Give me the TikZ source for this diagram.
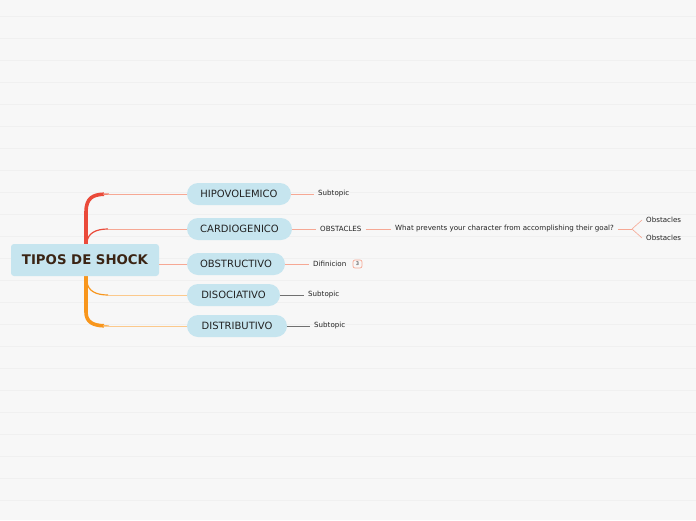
\documentclass[tikz,border=0pt]{standalone}
\usepackage{fontspec}
\setmainfont{DejaVu Sans}
\begin{document}
\begin{tikzpicture}[x=1pt,y=-1pt,
  topic/.style={fill=topicblue, rounded corners=11pt, minimum height=22pt, inner sep=0pt, font=\fontsize{10}{12}\selectfont, text=textdark},
  small/.style={font=\fontsize{7.1}{8.5}\selectfont, text=textdark, inner sep=4pt},
  pinkline/.style={draw=salmon, line width=0.9pt},
  orline/.style={draw=lightorange, line width=0.9pt},
  greyline/.style={draw=greyl, line width=0.9pt}
]
\definecolor{bg}{HTML}{F7F7F7}
\definecolor{topicblue}{HTML}{C6E5EF}
\definecolor{textdark}{HTML}{222222}
\definecolor{centertext}{HTML}{3A2414}
\definecolor{salmon}{HTML}{F6A894}
\definecolor{lightorange}{HTML}{FBC98C}
\definecolor{greyl}{HTML}{707070}
\definecolor{trunkred}{HTML}{EA4A3A}
\definecolor{trunkorange}{HTML}{F8961C}
\fill[bg] (0,0) rectangle (696,520);
\useasboundingbox (0,0) rectangle (696,520);
\foreach \yy in {16,38,60,82,104,126,148,170,192,214,236,258,280,302,324,346,368,390,412,434,456,478,500}
  \draw[white!60!bg!90!black, line width=0.5pt, opacity=0.35] (0,\yy) -- (696,\yy);

% trunk
\draw[trunkred, line width=3.6pt] (86,246) -- (86,212) .. controls (86,198) and (93,194.5) .. (104,194.2);
\draw[salmon!60!trunkred, line width=1.4pt] (103,194.2) -- (109,194);
\draw[trunkorange, line width=3.6pt] (86,274) -- (86,312) .. controls (86,322) and (93,325.5) .. (104,325.8);
\draw[lightorange!60!trunkorange, line width=1.4pt] (103,325.8) -- (109,326);
\draw[trunkred, line width=1.2pt] (87,242) .. controls (88,233) and (96,229) .. (108,229);
\draw[trunkorange, line width=1.2pt] (87,282) .. controls (88,291) and (96,295) .. (108,295);

% central
\node[fill=topicblue, rounded corners=3pt, minimum width=148pt, minimum height=32pt, inner sep=0pt,
  font=\fontsize{13.3}{15}\selectfont\bfseries, text=centertext] (c) at (85,260) {TIPOS DE SHOCK};

% topics
\node[topic, minimum width=104pt] (h) at (239,194) {HIPOVOLEMICO};
\node[topic, minimum width=105pt] (ca) at (239.5,229) {CARDIOGENICO};
\node[topic, minimum width=98pt] (o) at (236,264) {OBSTRUCTIVO};
\node[topic, minimum width=93pt] (di) at (233.5,295) {DISOCIATIVO};
\node[topic, minimum width=100pt] (ds) at (237,326) {DISTRIBUTIVO};

\coordinate (ht) at (108,194);
\coordinate (cat) at (108,229);
\coordinate (dit) at (108,295);
\coordinate (dst) at (108,326);
\draw[pinkline] (ht) -- (h.west);
\draw[pinkline] (cat) -- (ca.west);
\draw[pinkline] (c.east |- o.west) -- (o.west);
\draw[orline] (dit) -- (di.west);
\draw[orline] (dst) -- (ds.west);

% subtopics
\node[small, anchor=west] (hs) at (314,194) {Subtopic};
\draw[pinkline] (h.east) -- (hs.west);

\node[small, anchor=west] (ob) at (316,229) {OBSTACLES};
\draw[pinkline] (ca.east) -- (ob.west);
\node[small, anchor=west] (wp) at (391,229) {What prevents your character from accomplishing their goal?};
\draw[pinkline, line width=0.6pt] (ob.east) -- (wp.west);
\node[small, anchor=west] (o1) at (642,220) {Obstacles};
\node[small, anchor=west] (o2) at (642,238) {Obstacles};
\coordinate (fk) at (632,229);
\draw[pinkline] (wp.east) -- (fk);
\draw[pinkline, line width=0.6pt] (fk) -- (o1.west);
\draw[pinkline, line width=0.6pt] (fk) -- (o2.west);

\node[small, anchor=west] (df) at (309,264) {Difinicion};
\draw[pinkline] (o.east) -- (df.west);
\node[draw=salmon, line width=0.7pt, rounded corners=2pt, minimum width=9pt, minimum height=8pt, inner sep=0pt,
  font=\fontsize{5}{6}\selectfont, text=textdark] (b3) at (357.5,264) {3};

\node[small, anchor=west] (dis) at (304,295) {Subtopic};
\draw[greyline] (di.east) -- (dis.west);
\node[small, anchor=west] (dss) at (310,326) {Subtopic};
\draw[greyline] (ds.east) -- (dss.west);
\end{tikzpicture}
\end{document}
